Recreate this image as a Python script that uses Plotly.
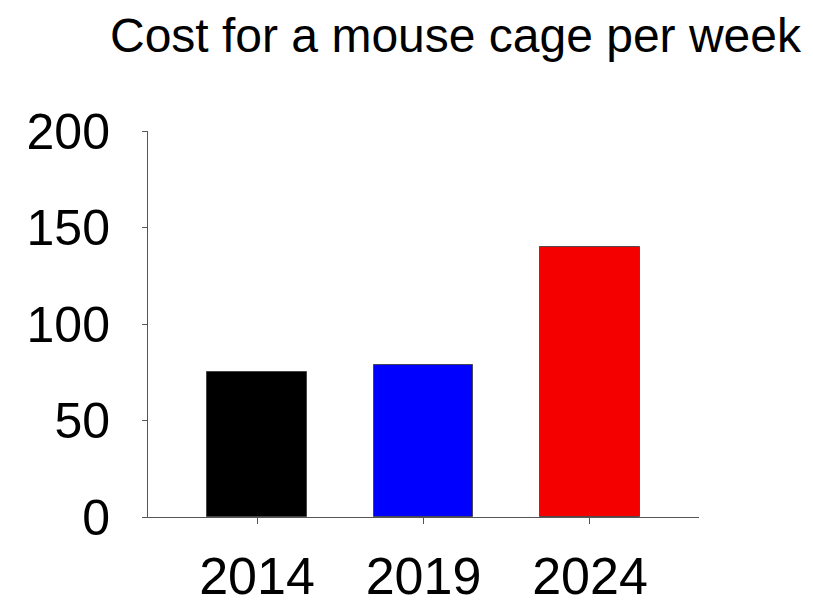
import plotly.graph_objects as go

years = ["2014", "2019", "2024"]
costs = [75, 79, 140]
bar_colors = ["#000000", "#0000FF", "#F50000"]
y_ticks = [0, 50, 100, 150, 200]

FONT = "Liberation Sans, Arial, sans-serif"

fig = go.Figure()
fig.add_trace(go.Bar(
    x=years,
    y=costs,
    width=0.6,
    marker=dict(color=bar_colors, line=dict(color="rgba(60,60,60,0.85)", width=1)),
    showlegend=False,
))

fig.update_layout(
    width=813,
    height=601,
    paper_bgcolor="white",
    plot_bgcolor="white",
    margin=dict(l=148, r=114, t=131, b=84),
    font=dict(family=FONT, color="#000000"),
    title=dict(
        text="Cost for a mouse cage per week",
        font=dict(family=FONT, size=48, color="#000000"),
        xref="container", x=455.5 / 813, xanchor="center",
        yref="container", y=1 - 35 / 601, yanchor="middle",
    ),
    bargap=0,
)

fig.update_xaxes(
    type="category",
    range=[-0.655, 2.655],
    automargin=False,
    showline=True, linecolor="#555555", linewidth=1,
    ticks="outside", ticklen=6, tickcolor="#555555", tickwidth=1,
    tickfont=dict(family=FONT, size=52, color="#000000"),
    ticklabelstandoff=8,
    showgrid=False, zeroline=False,
)
fig.update_yaxes(
    range=[0, 200],
    automargin=False,
    tickvals=y_ticks,
    ticktext=[str(v) for v in y_ticks],
    showline=True, linecolor="#555555", linewidth=1,
    ticks="outside", ticklen=5, tickcolor="#555555", tickwidth=1,
    tickfont=dict(family=FONT, size=50, color="#000000"),
    ticklabelstandoff=22,
    showgrid=False, zeroline=False,
)

fig.write_html(
    "out.html",
    config={"displayModeBar": False},
    post_script="document.body.style.margin='0';document.body.style.overflow='hidden';",
)
